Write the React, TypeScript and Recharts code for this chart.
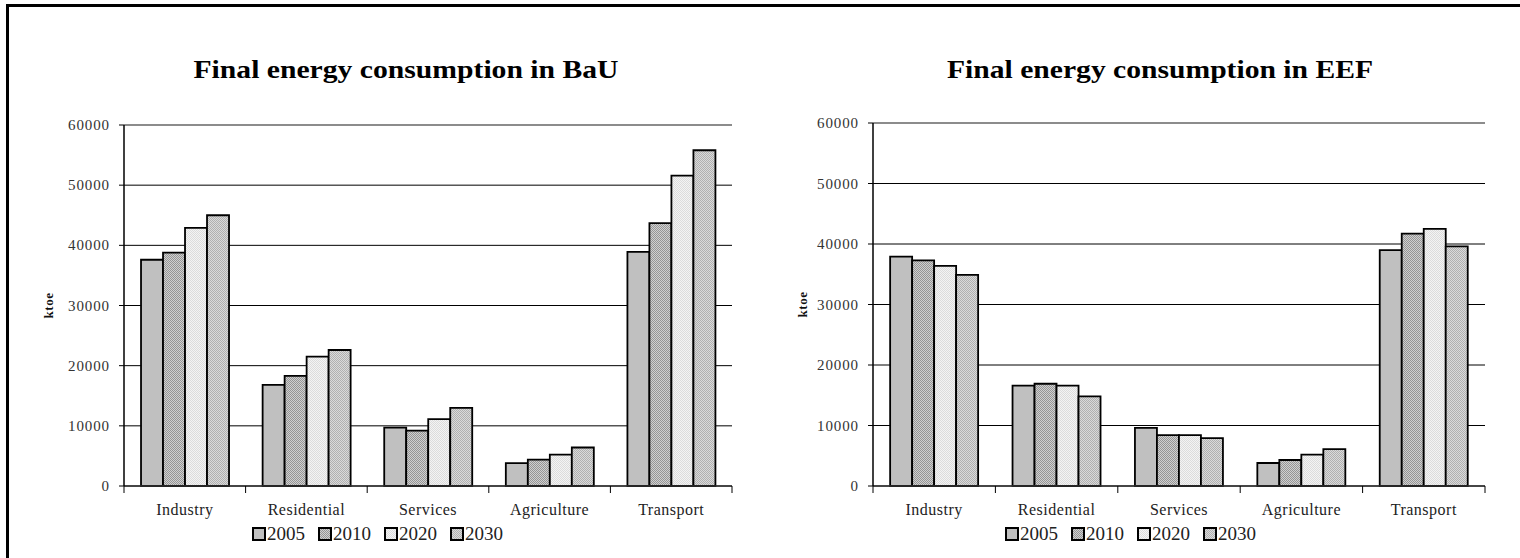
import React from 'react';
import { BarChart, Bar, XAxis, YAxis, CartesianGrid, ReferenceLine } from 'recharts';

// Sectors on the category axis
const categories = ['Industry', 'Residential', 'Services', 'Agriculture', 'Transport'];

// Years shown as series
const years = ['2005', '2010', '2020', '2030'];

// Business-as-usual scenario, ktoe
const bau2005 = [37600, 16800, 9700, 3800, 38900];
const bau2010 = [38800, 18300, 9200, 4400, 43700];
const bau2020 = [42900, 21500, 11100, 5200, 51600];
const bau2030 = [45000, 22600, 13000, 6400, 55800];

// Energy-efficiency scenario, ktoe
const eef2005 = [37900, 16600, 9600, 3800, 39000];
const eef2010 = [37300, 16900, 8400, 4300, 41700];
const eef2020 = [36400, 16600, 8400, 5200, 42500];
const eef2030 = [34900, 14800, 7900, 6100, 39600];

// Value axis ticks
const yTicks = [0, 10000, 20000, 30000, 40000, 50000, 60000];

const FONT = '"Liberation Serif", "Times New Roman", serif';

const seriesFill: Record<string, string> = {
  '2005': 'url(#fill2005)',
  '2010': 'url(#fill2010)',
  '2020': 'url(#fill2020)',
  '2030': 'url(#fill2030)',
};

function buildRows(s2005: number[], s2010: number[], s2020: number[], s2030: number[]) {
  return categories.map((name, i) => ({
    name,
    '2005': s2005[i],
    '2010': s2010[i],
    '2020': s2020[i],
    '2030': s2030[i],
  }));
}

const bauRows = buildRows(bau2005, bau2010, bau2020, bau2030);
const eefRows = buildRows(eef2005, eef2010, eef2020, eef2030);

function YTick(props: any) {
  const { x, y, payload } = props;
  return (
    <text
      x={x}
      y={y}
      dy={5}
      textAnchor="end"
      style={{ fontFamily: FONT, fontSize: 15, letterSpacing: 0.9 }}
      fill="#333"
    >
      {payload.value}
    </text>
  );
}

function XTick(props: any) {
  const { x, y, payload, index, width } = props;
  const band = payload && payload.offset ? payload.offset * 2 : width / categories.length;
  const half = band / 2;
  const last = index === categories.length - 1;
  return (
    <g>
      <line x1={x - half} y1={y} x2={x - half} y2={y + 7} stroke="#000" strokeWidth={1} />
      {last && <line x1={x + half} y1={y} x2={x + half} y2={y + 7} stroke="#000" strokeWidth={1} />}
      <text
        x={x}
        y={y + 29}
        textAnchor="middle"
        style={{ fontFamily: FONT, fontSize: 16, letterSpacing: 0.5 }}
        fill="#222"
      >
        {payload.value}
      </text>
    </g>
  );
}

function Patterns() {
  return (
    <svg width={0} height={0} style={{ position: 'absolute' }}>
      <defs>
        <pattern id="fill2005" width={2} height={2} patternUnits="userSpaceOnUse">
          <rect width={2} height={2} fill="#c0c0c0" />
        </pattern>
        <pattern id="fill2010" width={2} height={2} patternUnits="userSpaceOnUse">
          <rect width={2} height={2} fill="#d0d0d0" />
          <rect x={0} y={0} width={1} height={1} fill="#959595" />
          <rect x={1} y={1} width={1} height={1} fill="#959595" />
        </pattern>
        <pattern id="fill2020" width={2} height={2} patternUnits="userSpaceOnUse">
          <rect width={2} height={2} fill="#f4f4f4" />
          <rect x={0} y={0} width={1} height={1} fill="#dcdcdc" />
          <rect x={1} y={1} width={1} height={1} fill="#dcdcdc" />
        </pattern>
        <pattern id="fill2030" width={2} height={2} patternUnits="userSpaceOnUse">
          <rect width={2} height={2} fill="#dadada" />
          <rect x={0} y={0} width={1} height={1} fill="#b0b0b0" />
          <rect x={1} y={1} width={1} height={1} fill="#b0b0b0" />
        </pattern>
      </defs>
    </svg>
  );
}

type PanelProps = {
  rows: any[];
  left: number;
  top: number;
  right: number;
  axisWidth: number;
  title: string;
  titleX: number;
  titleWidth: number;
  labelX: number;
  legendX: number;
};

function Panel({ rows, left, top, right, axisWidth, title, titleX, titleWidth, labelX, legendX }: PanelProps) {
  return (
    <div style={{ position: 'absolute', left, top: 0, width: 760, height: 558 }}>
      <BarChart
        width={760}
        height={558}
        data={rows}
        margin={{ top, right, left: 0, bottom: 0 }}
        barCategoryGap="14%"
        barGap={0}
      >
        <CartesianGrid yAxisId="v" vertical={false} stroke="#000" strokeWidth={1} />
        <XAxis
          dataKey="name"
          height={72}
          tickLine={false}
          tickSize={0}
          tickMargin={0}
          axisLine={{ stroke: '#333', strokeWidth: 1.5 }}
          tick={<XTick />}
          interval={0}
        />
        <YAxis
          yAxisId="v"
          width={axisWidth}
          domain={[0, 60000]}
          ticks={yTicks}
          interval={0}
          tickSize={5}
          tickMargin={9}
          axisLine={{ stroke: '#000', strokeWidth: 1.5 }}
          tickLine={{ stroke: '#000' }}
          tick={<YTick />}
          label={{
            content: (p: any) => {
              const vb = p.viewBox || {};
              const cx = labelX;
              const cy = (vb.y || 0) + (vb.height || 0) / 2;
              return (
                <text
                  x={cx}
                  y={cy}
                  transform={`rotate(-90 ${cx} ${cy})`}
                  textAnchor="middle"
                  dominantBaseline="central"
                  style={{ fontFamily: FONT, fontWeight: 'bold', fontSize: 13, letterSpacing: 0.5 }}
                  fill="#111"
                >
                  ktoe
                </text>
              );
            },
          }}
        />
        <YAxis
          yAxisId="frame"
          orientation="right"
          width={0}
          domain={[0, 60000]}
          tick={false}
          tickLine={false}
          axisLine={{ stroke: '#8c8c8c', strokeWidth: 2 }}
        />
        <ReferenceLine yAxisId="v" y={60000} stroke="#8c8c8c" strokeWidth={2} />
        {years.map((yr) => (
          <Bar
            key={yr}
            yAxisId="v"
            dataKey={yr}
            fill={seriesFill[yr]}
            stroke="#000"
            strokeWidth={1.8}
            isAnimationActive={false}
          />
        ))}
      </BarChart>
      <svg width={760} height={558} style={{ position: 'absolute', left: 0, top: 0, pointerEvents: 'none' }}>
        <text
          x={titleX}
          y={78}
          textAnchor="middle"
          style={{ fontFamily: FONT, fontWeight: 'bold', fontSize: 26 }}
          fill="#000"
          textLength={titleWidth}
          lengthAdjust="spacingAndGlyphs"
        >
          {title}
        </text>
        {years.map((yr, i) => {
          const x0 = legendX + i * 66;
          return (
            <g key={yr}>
              <rect x={x0 + 1} y={528} width={12} height={12} fill={seriesFill[yr]} stroke="#000" strokeWidth={2} />
              <text x={x0 + 15} y={540} style={{ fontFamily: FONT, fontSize: 19 }} fill="#222">
                {yr}
              </text>
            </g>
          );
        })}
      </svg>
    </div>
  );
}

export default function App() {
  return (
    <div
      style={{
        position: 'absolute',
        left: 0,
        top: 0,
        width: 1520,
        height: 558,
        overflow: 'hidden',
        background: '#fff',
      }}
    >
      <Patterns />
      <div
        style={{
          position: 'absolute',
          left: 6,
          top: 4,
          width: 1700,
          height: 800,
          border: '3px solid #000',
          boxSizing: 'border-box',
        }}
      />
      <Panel
        rows={bauRows}
        left={0}
        top={125}
        right={28}
        axisWidth={124}
        title="Final energy consumption in BaU"
        titleX={406}
        titleWidth={425}
        labelX={48}
        legendX={252}
      />
      <Panel
        rows={eefRows}
        left={760}
        top={123}
        right={35}
        axisWidth={113}
        title="Final energy consumption in EEF"
        titleX={400}
        titleWidth={426}
        labelX={42}
        legendX={245}
      />
    </div>
  );
}
